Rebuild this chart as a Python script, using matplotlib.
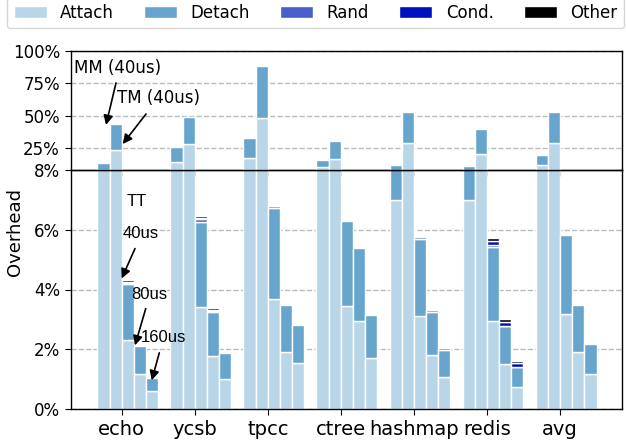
import numpy as np
import matplotlib
matplotlib.use('Agg')
import matplotlib.pyplot as plt
from matplotlib.patches import Patch

plt.rcParams['font.family'] = ['DejaVu Sans']
plt.rcParams['font.size'] = 12

groups = ['echo', 'ycsb', 'tpcc', 'ctree', 'hashmap', 'redis', 'avg']
configs = ['MM (40us)', 'TM (40us)', 'TT 40us', 'TT 80us', 'TT 160us']
components = ['Attach', 'Detach', 'Rand', 'Cond.', 'Other']

# overhead in %, one row per group, columns = configs
attach = [[8.1, 23.5, 2.30, 1.16, 0.59],
          [14.0, 27.9, 3.42, 1.78, 1.02],
          [17.0, 48.0, 3.67, 1.91, 1.54],
          [10.1, 16.7, 3.44, 2.94, 1.71],
          [7.0, 28.6, 3.12, 1.80, 1.07],
          [7.0, 20.4, 2.96, 1.52, 0.74],
          [11.6, 28.6, 3.19, 1.91, 1.18]]
detach = [[5.5, 20.1, 1.90, 0.95, 0.46],
          [12.0, 21.3, 2.85, 1.47, 0.84],
          [15.5, 40.6, 3.06, 1.56, 1.26],
          [5.4, 13.9, 2.85, 2.44, 1.42],
          [5.1, 24.0, 2.57, 1.45, 0.92],
          [4.3, 19.1, 2.47, 1.25, 0.66],
          [8.2, 24.0, 2.63, 1.57, 0.99]]
rand = [[0, 0, 0.03, 0, 0],
        [0, 0, 0.08, 0.03, 0],
        [0, 0, 0.05, 0, 0],
        [0, 0, 0, 0, 0],
        [0, 0, 0.06, 0.05, 0.05],
        [0, 0, 0.06, 0.02, 0.02],
        [0, 0, 0, 0, 0]]
cond = [[0, 0, 0.03, 0, 0],
        [0, 0, 0.03, 0.03, 0],
        [0, 0, 0, 0, 0],
        [0, 0, 0, 0, 0],
        [0, 0, 0, 0, 0],
        [0, 0, 0.12, 0.13, 0.12],
        [0, 0, 0, 0, 0]]
other = [[0, 0, 0.07, 0, 0],
         [0, 0, 0.08, 0.06, 0],
         [0, 0, 0.01, 0, 0],
         [0, 0, 0, 0, 0],
         [0, 0, 0.02, 0.01, 0.01],
         [0, 0, 0.12, 0.10, 0.08],
         [0, 0, 0, 0, 0]]

colors = ['#b9d5e8', '#68a5cc', '#4a5ecb', '#000fc0', '#000000']
data = [np.array(a, dtype=float) for a in (attach, detach, rand, cond, other)]

fig = plt.figure(figsize=(6.26, 4.44), dpi=100)
L, W = 71 / 626, 551 / 626
ax_bot = fig.add_axes([L, (444 - 409) / 444, W, 239 / 444])
ax_top = fig.add_axes([L, (444 - 170) / 444, W, 119 / 444])
ax_top.patch.set_visible(False)
ax_bot.patch.set_visible(False)

x = np.arange(len(groups))
w = 1 / 6
for ax in (ax_top, ax_bot):
    for j in range(len(configs)):
        bottom = np.zeros(len(groups))
        for k in range(len(components)):
            vals = data[k][:, j]
            m = vals > 0
            ax.bar(x[m] + (j - 2) * w, vals[m], w, bottom=bottom[m], align='edge',
                   color=colors[k], edgecolor='white', linewidth=1.0, zorder=2)
            bottom = bottom + vals
    ax.set_xlim(-0.694, 6.849)
    ax.set_axisbelow(True)
    ax.yaxis.grid(True, linestyle='--', color='#bbbbbb', linewidth=1)
    for s in ax.spines.values():
        s.set_color('black')
        s.set_linewidth(1.0)
        s.set_zorder(5)

ax_top.set_ylim(8, 100)
ax_top.set_yticks([8, 25, 50, 75, 100])
ax_top.set_yticklabels(['8%', '25%', '50%', '75%', '100%'])
ax_top.set_xticks(x)
ax_top.set_xticklabels([])
ax_top.tick_params(axis='x', length=4, color='#dddddd')
ax_top.tick_params(axis='y', length=4.5)
ax_top.get_ygridlines()[0].set_visible(False)

ax_bot.set_ylim(0, 8)
ax_bot.set_yticks([0, 2, 4, 6])
ax_bot.set_yticklabels(['0%', '2%', '4%', '6%'])
ax_bot.set_xticks(x)
ax_bot.set_xticklabels(groups, fontsize=14)
ax_bot.tick_params(axis='both', length=4.5)

fig.text(15.5 / 626, 1 - 232 / 444, 'Overhead', rotation=90, fontsize=13,
         ha='center', va='center')

arrow = dict(arrowstyle='-|>', color='black', lw=1.2, mutation_scale=14,
             shrinkA=0, shrinkB=0)
ax_top.annotate('MM (40us)', xy=(-0.215, 42.8), xytext=(-0.653, 86.9),
                ha='left', va='center', fontsize=12, annotation_clip=False)
ax_top.annotate('', xy=(-0.215, 42.8), xytext=(-0.078, 75.3), arrowprops=arrow,
                annotation_clip=False)
ax_top.annotate('TM (40us)', xy=(0.014, 28.1), xytext=(-0.064, 63.7),
                ha='left', va='center', fontsize=12, annotation_clip=False)
ax_top.annotate('', xy=(0.014, 28.1), xytext=(0.333, 51.3), arrowprops=arrow,
                annotation_clip=False)

lib = ['Liberation Sans', 'DejaVu Sans']
ax_bot.text(0.205, 6.93, 'TT', ha='center', va='center', fontsize=12, family=lib)
ax_bot.text(0.255, 5.88, '40us', ha='center', va='center', fontsize=12, family=lib)
ax_bot.annotate('', xy=(0.0, 4.37), xytext=(0.182, 5.37), arrowprops=arrow)
ax_bot.text(0.383, 3.83, '80us', ha='center', va='center', fontsize=12, family=lib)
ax_bot.annotate('', xy=(0.182, 2.13), xytext=(0.329, 3.36), arrowprops=arrow)
ax_bot.text(0.569, 2.38, '160us', ha='center', va='center', fontsize=12, family=lib)
ax_bot.annotate('', xy=(0.411, 0.96), xytext=(0.515, 1.88), arrowprops=arrow)

handles = [Patch(facecolor=c, edgecolor='white', label=n) for c, n in zip(colors, components)]
fig.legend(handles=handles, loc='lower left', ncol=5, mode='expand',
           bbox_to_anchor=(7 / 626, 1 - 28.5 / 444, 617 / 626, 28.5 / 444),
           fontsize=12, borderaxespad=0, frameon=True)

fig.savefig('out.png', dpi=100)
